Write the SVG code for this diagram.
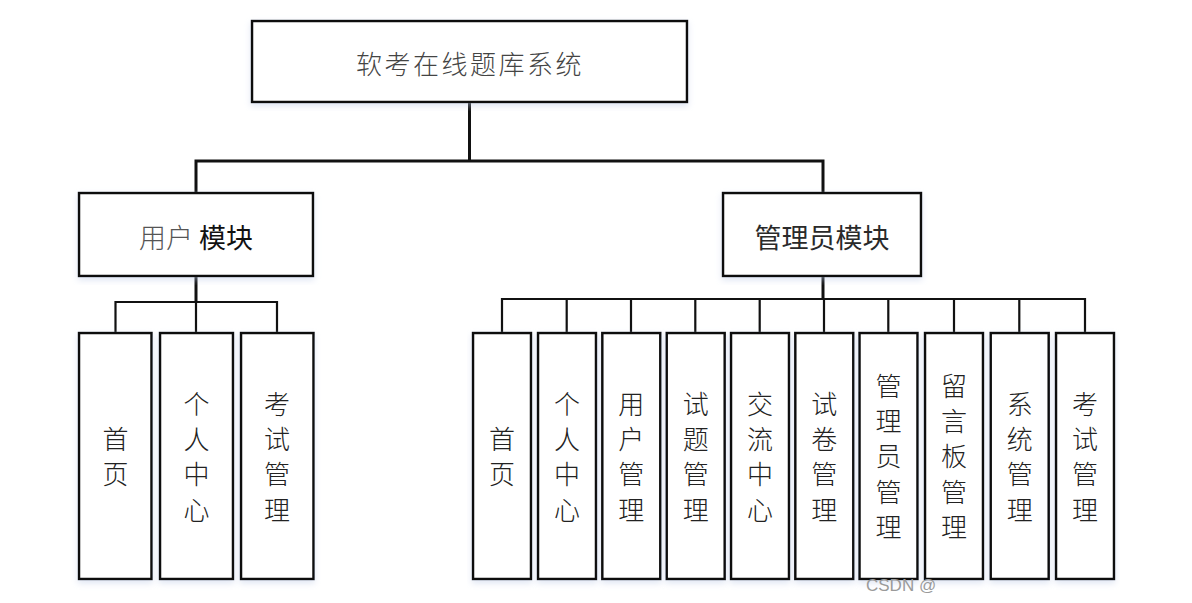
<svg xmlns="http://www.w3.org/2000/svg" width="1192" height="603" viewBox="0 0 1192 603">
<defs>
<filter id="sh" x="-10%" y="-10%" width="120%" height="120%">
<feDropShadow dx="0" dy="3" stdDeviation="3" flood-color="#b9c8e6" flood-opacity="0.45"/>
</filter>
<style>
.box{fill:#ffffff;stroke:#111;stroke-width:2.5;filter:url(#sh)}
.t{font-family:"Noto Sans CJK SC","Liberation Sans",sans-serif;fill:#2a2a2a;text-anchor:middle;dominant-baseline:central}
.title{font-size:26px;font-weight:300;letter-spacing:2.5px;fill:#444}
.mod{font-size:27px}
.leaf{font-size:26px;font-weight:300;fill:#222}
.c{fill:none;stroke:#111;stroke-linejoin:miter}
.c1{stroke-width:3}
.c2{stroke-width:2.2}
.wm{font-family:"Liberation Sans",sans-serif;font-size:17px;fill:#9a9a9a}
</style>
</defs>
<rect width="1192" height="603" fill="#ffffff"/>

<g id="connectors">
<path class="c c1" d="M469.5 102 V161 M196 193 V161 H823 V193"/>
<path class="c c1" d="M196 276 V302"/>
<path class="c c2" d="M115.5 333 V302 H277 V333 M196 302 V333"/>
<path class="c c1" d="M823 276 V299"/>
<path class="c c2" d="M502 333 V299 H1085 V333 M566.7 299 V333 M631 299 V333 M695.3 299 V333 M759.7 299 V333 M824 299 V333 M888.3 299 V333 M954 299 V333 M1019.3 299 V333"/>
</g>

<g id="root">
<rect class="box" x="252" y="21" width="435" height="81"/>
<text class="t title" x="470" y="62">软考在线题库系统</text>
</g>

<g id="user-module">
<rect class="box" x="79" y="193" width="234" height="83"/>
<text class="t mod" x="196" y="236"><tspan font-weight="300" fill="#555">用户</tspan> <tspan font-weight="400" fill="#111">模块</tspan></text>
</g>

<g id="admin-module">
<rect class="box" x="723" y="193" width="198" height="83"/>
<text class="t mod" x="822" y="236" font-weight="400" fill="#111" font-size="28">管理员模块</text>
</g>

<g id="u-home">
<rect class="box" x="79" y="333" width="72.5" height="246"/>
<text class="t leaf"><tspan x="115.5" y="437">首</tspan><tspan x="115.5" y="472">页</tspan></text>
</g>
<g id="u-center">
<rect class="box" x="160" y="333" width="73" height="246"/>
<text class="t leaf"><tspan x="196.5" y="402">个</tspan><tspan x="196.5" y="437">人</tspan><tspan x="196.5" y="472">中</tspan><tspan x="196.5" y="508">心</tspan></text>
</g>
<g id="u-exam">
<rect class="box" x="241" y="333" width="72.5" height="246"/>
<text class="t leaf"><tspan x="277" y="402">考</tspan><tspan x="277" y="437">试</tspan><tspan x="277" y="472">管</tspan><tspan x="277" y="508">理</tspan></text>
</g>

<g id="a-home">
<rect class="box" x="473" y="333" width="58" height="246"/>
<text class="t leaf"><tspan x="502" y="437">首</tspan><tspan x="502" y="472">页</tspan></text>
</g>
<g id="a-center">
<rect class="box" x="538" y="333" width="58" height="246"/>
<text class="t leaf"><tspan x="567" y="402">个</tspan><tspan x="567" y="437">人</tspan><tspan x="567" y="472">中</tspan><tspan x="567" y="508">心</tspan></text>
</g>
<g id="a-user">
<rect class="box" x="602.3" y="333" width="58" height="246"/>
<text class="t leaf"><tspan x="631.3" y="402">用</tspan><tspan x="631.3" y="437">户</tspan><tspan x="631.3" y="472">管</tspan><tspan x="631.3" y="508">理</tspan></text>
</g>
<g id="a-question">
<rect class="box" x="666.7" y="333" width="58" height="246"/>
<text class="t leaf"><tspan x="695.7" y="402">试</tspan><tspan x="695.7" y="437">题</tspan><tspan x="695.7" y="472">管</tspan><tspan x="695.7" y="508">理</tspan></text>
</g>
<g id="a-forum">
<rect class="box" x="731" y="333" width="58" height="246"/>
<text class="t leaf"><tspan x="760" y="402">交</tspan><tspan x="760" y="437">流</tspan><tspan x="760" y="472">中</tspan><tspan x="760" y="508">心</tspan></text>
</g>
<g id="a-paper">
<rect class="box" x="795.3" y="333" width="58" height="246"/>
<text class="t leaf"><tspan x="824.3" y="402">试</tspan><tspan x="824.3" y="437">卷</tspan><tspan x="824.3" y="472">管</tspan><tspan x="824.3" y="508">理</tspan></text>
</g>
<g id="a-admin">
<rect class="box" x="859.5" y="333" width="58" height="246"/>
<text class="t leaf"><tspan x="888.5" y="384">管</tspan><tspan x="888.5" y="419">理</tspan><tspan x="888.5" y="454">员</tspan><tspan x="888.5" y="490">管</tspan><tspan x="888.5" y="525">理</tspan></text>
</g>
<g id="a-board">
<rect class="box" x="925" y="333" width="58" height="246"/>
<text class="t leaf"><tspan x="954" y="384">留</tspan><tspan x="954" y="419">言</tspan><tspan x="954" y="454">板</tspan><tspan x="954" y="490">管</tspan><tspan x="954" y="525">理</tspan></text>
</g>
<g id="a-system">
<rect class="box" x="990.7" y="333" width="58" height="246"/>
<text class="t leaf"><tspan x="1019.7" y="402">系</tspan><tspan x="1019.7" y="437">统</tspan><tspan x="1019.7" y="472">管</tspan><tspan x="1019.7" y="508">理</tspan></text>
</g>
<g id="a-exam">
<rect class="box" x="1056" y="333" width="58" height="246"/>
<text class="t leaf"><tspan x="1085" y="402">考</tspan><tspan x="1085" y="437">试</tspan><tspan x="1085" y="472">管</tspan><tspan x="1085" y="508">理</tspan></text>
</g>

<text class="wm" x="866" y="591">CSDN @</text>
</svg>
